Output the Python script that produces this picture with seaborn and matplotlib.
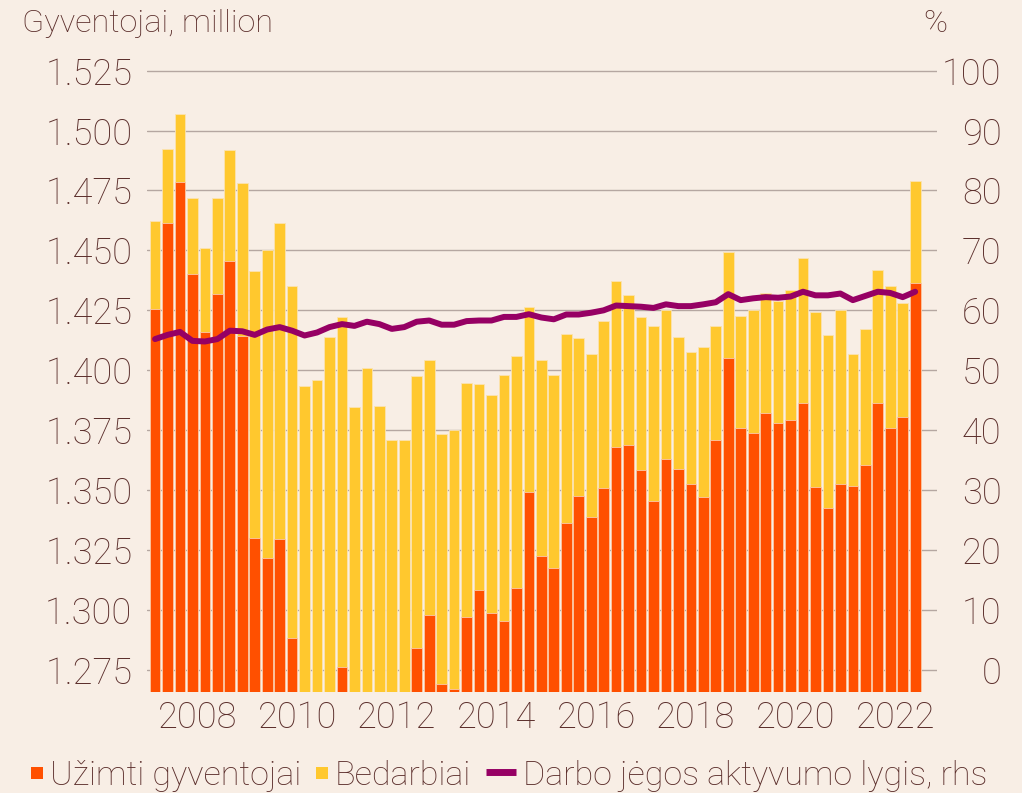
import matplotlib
matplotlib.use("Agg")
import matplotlib.pyplot as plt
from matplotlib.lines import Line2D
from matplotlib.patches import Rectangle
import seaborn as sns
import pandas as pd
import numpy as np

# DATA (quarterly, 2007 Q1 - 2022 Q2)
quarters = [f"{y}Q{q}" for y in range(2007, 2023) for q in range(1, 5)][:62]

# top of the orange bars (employed), million
uzimti = [1.4255, 1.4613, 1.4785, 1.4403, 1.4161, 1.4320, 1.4457, 1.4142, 1.3300, 1.3218,
          1.3298, 1.2885, 1.2550, 1.2520, 1.2580, 1.2763, 1.2620, 1.2600, 1.2580, 1.2550,
          1.2570, 1.2842, 1.2980, 1.2693, 1.2672, 1.2971, 1.3082, 1.2986, 1.2954, 1.3092,
          1.3493, 1.3225, 1.3175, 1.3364, 1.3475, 1.3386, 1.3508, 1.3678, 1.3688, 1.3586,
          1.3454, 1.3629, 1.3589, 1.3524, 1.3472, 1.3710, 1.4050, 1.3760, 1.3740, 1.3822,
          1.3781, 1.3794, 1.3864, 1.3515, 1.3424, 1.3524, 1.3518, 1.3604, 1.3865, 1.3758,
          1.3806, 1.4363]

# top of the yellow bars (employed + unemployed), million
bedarbiai_top = [1.4624, 1.4924, 1.5070, 1.4717, 1.4508, 1.4717, 1.4919, 1.4779, 1.4414, 1.4503,
                 1.4616, 1.4352, 1.3935, 1.3960, 1.4139, 1.4222, 1.3847, 1.4008, 1.3850, 1.3708,
                 1.3708, 1.3974, 1.4042, 1.3732, 1.3749, 1.3947, 1.3944, 1.3896, 1.3981, 1.4061,
                 1.4265, 1.4043, 1.3982, 1.4150, 1.4135, 1.4068, 1.4206, 1.4372, 1.4313, 1.4224,
                 1.4185, 1.4250, 1.4138, 1.4078, 1.4096, 1.4183, 1.4493, 1.4226, 1.4250, 1.4324,
                 1.4289, 1.4335, 1.4468, 1.4243, 1.4146, 1.4251, 1.4069, 1.4172, 1.4417, 1.4353,
                 1.4282, 1.4790]

# labour force participation rate, %, rhs
aktyvumas = [55.2, 55.9, 56.4, 54.9, 54.8, 55.2, 56.6, 56.5, 55.9, 56.8,
             57.2, 56.6, 55.8, 56.3, 57.2, 57.7, 57.4, 58.1, 57.7, 56.9,
             57.2, 58.1, 58.3, 57.6, 57.6, 58.2, 58.3, 58.3, 58.9, 58.9,
             59.35, 58.8, 58.5, 59.3, 59.3, 59.6, 60.0, 60.8, 60.7, 60.6,
             60.4, 61.0, 60.7, 60.7, 61.0, 61.35, 62.7, 61.7, 62.0, 62.2,
             62.1, 62.3, 63.1, 62.5, 62.5, 62.8, 61.7, 62.4, 63.1, 62.9,
             62.2, 63.1]

year_labels = ["2008", "2010", "2012", "2014", "2016", "2018", "2020", "2022"]
left_ticks = [1.275, 1.300, 1.325, 1.350, 1.375, 1.400, 1.425, 1.450, 1.475, 1.500, 1.525]
right_ticks = [0, 10, 20, 30, 40, 50, 60, 70, 80, 90, 100]
legend_labels = ["Užimti gyventojai", "Bedarbiai", "Darbo jėgos aktyvumo lygis, rhs"]

# STYLE
bg = "#f8eee5"
txt = "#5b2e2b"
orange = "#ff5000"
yellow = "#ffc82e"
purple = "#960064"
grid = "#b5a7a1"

sns.set_style("white", {"axes.facecolor": bg, "figure.facecolor": bg})
plt.rcParams["font.family"] = ["Roboto", "DejaVu Sans"]
plt.rcParams["font.weight"] = "light"
plt.rcParams["text.color"] = txt
plt.rcParams["xtick.color"] = txt
plt.rcParams["ytick.color"] = txt

df = pd.DataFrame({"q": np.arange(len(quarters)), "uzimti": uzimti,
                   "bedarbiai": bedarbiai_top, "aktyvumas": aktyvumas})

W, H = 1022, 793
fig = plt.figure(figsize=(W / 100, H / 100), dpi=100)
ax = fig.add_axes([0.1438, 0.1274, 0.9168 - 0.1438, 0.9125 - 0.1274])

sns.barplot(data=df, x="q", y="bedarbiai", color=yellow, width=0.86, saturation=1,
            edgecolor="#fbe3b0", linewidth=0.6, ax=ax, zorder=2)
sns.barplot(data=df, x="q", y="uzimti", color=orange, width=0.86, saturation=1,
            edgecolor="#fbc9a8", linewidth=0.6, ax=ax, zorder=3)

ax.set_ylim(1.2658, 1.5255)
ax.set_xlim(-0.65, 62.75)
ax.set_yticks(left_ticks)
ax.set_yticklabels([f"{v:.3f}" for v in left_ticks], fontsize=26, fontweight="light")
ax.yaxis.grid(True, color=grid, linewidth=1.0, zorder=0)
ax.set_axisbelow(True)
ax.set_xticks([3.4 + 8 * i for i in range(len(year_labels))])
ax.set_xticklabels(year_labels, fontsize=26, fontweight="light")
ax.tick_params(axis="both", length=0)
ax.tick_params(axis="y", pad=10.5)
ax.tick_params(axis="x", pad=6)
ax.set_xlabel("")
ax.set_ylabel("")
sns.despine(ax=ax, left=True, bottom=True)

ax2 = ax.twinx()
sns.lineplot(data=df, x="q", y="aktyvumas", color=purple, linewidth=4.3, ax=ax2, zorder=5)
ax2.set_ylim((1.2658 - 1.275) / 0.25 * 100, (1.5255 - 1.275) / 0.25 * 100)
ax2.set_yticks(right_ticks)
ax2.set_yticklabels([str(v) for v in right_ticks], fontsize=26, fontweight="light", ha="right")
ax2.tick_params(axis="y", length=0, pad=46.5)
ax2.set_ylabel("")
ax2.set_xlabel("")
sns.despine(ax=ax2, left=True, bottom=True, right=True)

fig.text(22 / W, 1 - 32 / H, "Gyventojai, million", fontsize=23.3, fontweight="light",
         va="baseline", ha="left")
fig.text(923 / W, 1 - 32 / H, "%", fontsize=23.3, fontweight="light", va="baseline", ha="left")

# legend laid out left to right along the bottom
fig.canvas.draw()
renderer = fig.canvas.get_renderer()
x = 31.4
base = 785  # baseline of legend text, px from top
kinds = ["box", "box", "line"]
colors = [orange, yellow, purple]
for kind, col, lab in zip(kinds, colors, legend_labels):
    if kind == "box":
        fig.add_artist(Rectangle((x / W, (H - base + 6) / H), 11.5 / W, 12.5 / H,
                                 transform=fig.transFigure, facecolor=col, edgecolor="none"))
        x += 11.5 + 7
    else:
        yl = (H - base + 13) / H
        fig.add_artist(Line2D([x / W, (x + 30) / W], [yl, yl], transform=fig.transFigure,
                              color=col, linewidth=5, solid_capstyle="butt"))
        x += 30 + 7
    t = fig.text(x / W, (H - base) / H, lab, fontsize=24.5, fontweight="light",
                 va="baseline", ha="left")
    bb = t.get_window_extent(renderer)
    x = bb.x1 + 15

fig.savefig("out.png", dpi=100, facecolor=bg)
